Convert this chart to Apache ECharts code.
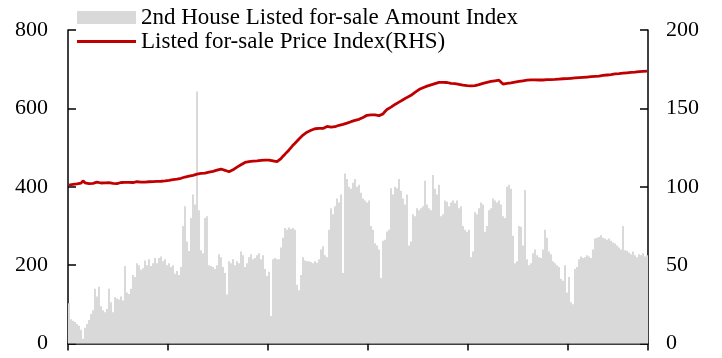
<!DOCTYPE html>
<html><head><meta charset="utf-8">
<script src="https://cdn.jsdelivr.net/npm/echarts@6/dist/echarts.min.js"></script>
<style>html,body{margin:0;padding:0;background:#fff}#c{width:722px;height:358px}</style>
</head><body><div id="c"></div>
<script>
// Series names
const barName = '2nd House Listed for-sale Amount Index';
const lineName = 'Listed for-sale Price Index(RHS)';
// Left axis ticks and right axis ticks
const leftTicks = [0, 200, 400, 600, 800];
const rightTicks = [0, 50, 100, 150, 200];
// Amount index (LHS), one value per period
const amountIndex = [
103,62,58,55,50, 45,35,12,40,50, 60,75,85,140,120, 145,95,85,80,88,
140,105,80,118,115, 112,120,110,198,130, 126,140,175,170,205, 200,188,192,212,200,
215,198,205,218,205, 218,222,210,215,200, 205,195,200,178,185, 175,195,300,350,260,
236,320,380,355,643, 340,238,230,320,325, 200,198,195,190,200, 228,220,195,180,125,
210,205,215,200,210, 205,235,225,195,205, 220,228,215,218,225, 230,215,225,190,172,
183,70,215,218,215, 215,245,270,295,290, 296,292,295,290,150, 136,175,220,212,210,
210,208,205,210,206, 215,240,248,225,220, 290,345,330,350,370, 360,380,180,434,420,
400,395,410,420,400, 405,385,370,365,360, 365,300,290,256,250, 240,167,262,265,286,
290,396,380,400,396, 420,390,370,355,380, 250,260,330,325,345, 340,345,350,415,355,
345,340,430,395,380, 405,325,330,365,362, 350,360,365,358,365, 345,350,300,290,285,
290,220,235,335,330, 345,360,355,285,300, 340,345,370,365,360, 365,355,325,320,400,
405,395,275,205,210, 300,298,250,392,215, 200,205,230,240,225, 220,218,240,290,270,
235,228,210,205,200, 195,165,160,200,130, 170,105,100,190,195, 215,222,218,220,225,
222,218,240,268,270, 272,276,270,268,265, 268,262,258,255,250, 245,240,300,238,237,
232,228,235,225,220, 228,225,230,222,225
];
// Price index (RHS), one value per period
const priceIndex = [
101,101.2,101.5,101.3,101.8,102,102.3,103.8,102.5,101.8,
102,102.3,102.2,102.8,103,102.6,102.4,102.8,102.5,102.3,
102.6,102.4,102.2,102.5,102,102.2,102.7,103,102.8,102.6,
102.8,103,102.7,103,103.2,102.9,103,103.2,103,103.3,
103.2,103,103.3,103.5,103.4,103.6,103.5,103.8,103.7,104,
104,104.2,104.5,104.4,104.8,105,105.4,105.8,106.2,106.4,
106.8,107,107.3,107.6,108,108.3,108.5,108.4,108.7,109,
109.3,109.6,109.8,110.2,110.6,111,111.3,111,110.5,110,
109.6,110,110.8,111.6,112.5,113.3,114,114.8,115.5,116,
116,116.2,116.3,116.4,116.5,116.5,116.8,116.9,117,117,
117,116.8,116.5,116.2,116,116.8,118,119.5,120.8,122,
123.5,125,126.5,127.8,129,130.5,131.5,133,134,134.8,
135.2,136,136.5,137,137.5,137.3,136.8,137.2,138,138.5,
138.2,138,137.7,138.3,138.8,139.2,139.5,139.8,140.3,140.6,
141,141.5,141.8,142.3,142.6,143,143.6,144.2,145,145.6,
146,145.8,145.5,145.8,145.5,145.3,145.5,146.5,148,149.3,
150,150.8,151.6,152.5,153.2,154,154.8,155.5,156.3,157,
157.5,158.3,159.2,160.2,161,162,162.6,163.2,163.8,164.2,
164.6,165,165.5,165.8,166.3,166.6,166.8,166.6,166.4,166.5,
166.2,165.9,165.7,165.8,165.6,165.3,165,164.8,164.6,164.5,
164.3,164.4,164.2,164.5,164.8,165.2,165.6,166,166.3,166.6,
166.9,167.2,167.5,167.6,167.8,168,168.2,165.5,165.6,165.9,
166.1,166.3,166.6,166.8,167,167.2,167.4,167.6,167.8,168,
168.1,168.2,168.3,168.2,168.1,168.1,168,168.1,168.2,168.3,
168.3,168.4,168.5,168.5,168.6,168.7,168.8,168.9,169,169,
169.1,169.2,169.3,169.4,169.5,169.6,169.7,169.8,169.9,170,
170.1,170.2,170.3,170.4,170.5,170.6,170.8,171,171.2,171.3,
171.5,171.6,171.8,172,172.1,172.2,172.4,172.5,172.6,172.7,
172.8,172.9,173,173.1,173.3,173.4,173.5,173.6,173.7,173.8
];
// Period categories (weekly periods)
const periods = amountIndex.map((_, i) => 'W' + (i + 1));

const font = "'Liberation Serif','Times New Roman',serif";
const chart = echarts.init(document.getElementById('c'), null, {renderer: 'canvas'});
chart.setOption({
  animation: false,
  backgroundColor: '#fff',
  textStyle: {fontFamily: font},
  grid: {left: 68, right: 74, top: 30, bottom: 14.5},
  legend: {
    orient: 'vertical', left: 77, top: 6, itemGap: 1,
    itemWidth: 59, itemHeight: 13,
    backgroundColor: '#fff',
    padding: [0, 4, 0, 0],
    textStyle: {fontFamily: font, fontSize: 23, color: '#000'},
    data: [
      {name: barName, icon: 'rect'},
      {name: lineName, icon: 'path://M0,5 L60,5 L60,8 L0,8 Z', itemStyle: {color: '#c00000'}}
    ]
  },
  xAxis: {
    type: 'category', data: periods, boundaryGap: true,
    axisLine: {lineStyle: {color: '#000', width: 1.5}},
    axisTick: {show: true, inside: false, length: 7, interval: 49, lineStyle: {color: '#000', width: 1.5}},
    axisLabel: {show: false},
    splitLine: {show: false}
  },
  yAxis: [
    {
      type: 'value', min: leftTicks[0], max: leftTicks[leftTicks.length - 1], interval: 200,
      axisLine: {show: true, lineStyle: {color: '#000', width: 1.5}},
      axisTick: {show: true, inside: true, length: 8, lineStyle: {color: '#000', width: 1.5}},
      axisLabel: {margin: 20, fontFamily: font, fontSize: 22, color: '#000'},
      splitLine: {show: false}
    },
    {
      type: 'value', min: rightTicks[0], max: rightTicks[rightTicks.length - 1], interval: 50,
      axisLine: {show: true, lineStyle: {color: '#000', width: 1.5}},
      axisTick: {show: true, inside: true, length: 8, lineStyle: {color: '#000', width: 1.5}},
      axisLabel: {margin: 18, fontFamily: font, fontSize: 22, color: '#000'},
      splitLine: {show: false}
    }
  ],
  series: [
    {
      name: barName, type: 'bar', data: amountIndex, yAxisIndex: 0,
      barCategoryGap: '0%', itemStyle: {color: '#d9d9d9'}, z: 1
    },
    {
      name: lineName, type: 'line', data: priceIndex, yAxisIndex: 1,
      symbol: 'none', smooth: false,
      lineStyle: {color: '#c00000', width: 2.8}, itemStyle: {color: '#c00000'}, z: 3
    }
  ]
});
</script>
</body></html>
